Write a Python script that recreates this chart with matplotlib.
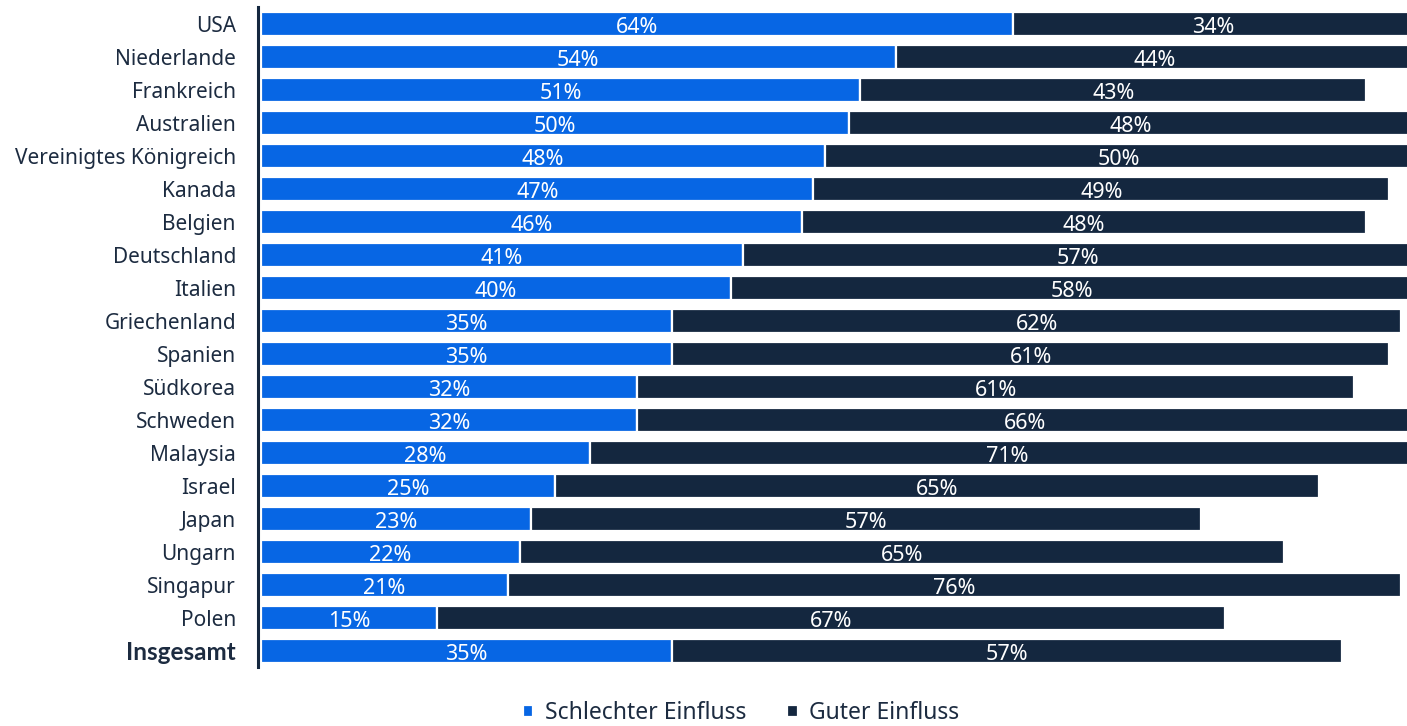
# Stacked horizontal bar chart: bad vs. good influence per country.
import matplotlib.pyplot as plt

plt.rcParams['font.family'] = ['Noto Sans', 'DejaVu Sans']

# Chart data.
countries = [
    "USA", "Niederlande", "Frankreich", "Australien", "Vereinigtes Königreich",
    "Kanada", "Belgien", "Deutschland", "Italien", "Griechenland", "Spanien",
    "Südkorea", "Schweden", "Malaysia", "Israel", "Japan", "Ungarn",
    "Singapur", "Polen", "Insgesamt",
]
schlecht = [64, 54, 51, 50, 48, 47, 46, 41, 40, 35, 35, 32, 32, 28, 25, 23, 22, 21, 15, 35]
gut = [34, 44, 43, 48, 50, 49, 48, 57, 58, 62, 61, 61, 66, 71, 65, 57, 65, 76, 67, 57]
series_names = ["Schlechter Einfluss", "Guter Einfluss"]

blue = "#0766e4"
navy = "#14273f"
text_dark = "#1c2b40"

fig = plt.figure(figsize=(14.07, 7.26), dpi=100)
ax = fig.add_axes([261 / 1407, 1 - 667.5 / 726, 1 - 261 / 1407, 660 / 726])

# Spines first: moving a spine resets the ticks of its axis.
for side in ["top", "right", "bottom"]:
    ax.spines[side].set_visible(False)
ax.spines["left"].set_color(navy)
ax.spines["left"].set_linewidth(2.2)
ax.spines["left"].set_position(("outward", 2))

y = list(range(len(countries)))

# Draw both series as stacked bars.
bars1 = ax.barh(y, schlecht, height=0.72, color=blue, edgecolor="white",
                linewidth=1.6, label=series_names[0])
bars2 = ax.barh(y, gut, left=schlecht, height=0.72, color=navy, edgecolor="white",
                linewidth=1.6, label=series_names[1])

# White percentage labels in the middle of each segment.
for i in y:
    ax.text(schlecht[i] / 2, i + 0.1, f"{schlecht[i]}%", color="white",
            ha="center", va="center", fontsize=15.5)
    ax.text(schlecht[i] + gut[i] / 2, i + 0.1, f"{gut[i]}%", color="white",
            ha="center", va="center", fontsize=15.5)

ax.set_xlim(0, 97.5)
ax.set_ylim(19.5, -0.5)
ax.set_xticks([])

# Category labels on the left, total row in bold.
ax.tick_params(axis="y", length=0, pad=16, labelsize=15, labelcolor=text_dark)
ax.set_yticks(y)
labels = ax.set_yticklabels(countries)
labels[-1].set_fontfamily(["Lato", "DejaVu Sans"])
labels[-1].set_fontweight("bold")
labels[-1].set_fontsize(17.5)

# Legend below the chart with small square markers.
fig.legend(handles=[bars1, bars2], labels=series_names, loc="center",
           bbox_to_anchor=(741 / 1407, 1 - 713 / 726), ncol=2, frameon=False,
           fontsize=16.5, handlelength=0.45, handleheight=0.45, handletextpad=0.5,
           columnspacing=1.8, labelcolor=text_dark)

plt.savefig("out.png", dpi=100)
plt.close()
